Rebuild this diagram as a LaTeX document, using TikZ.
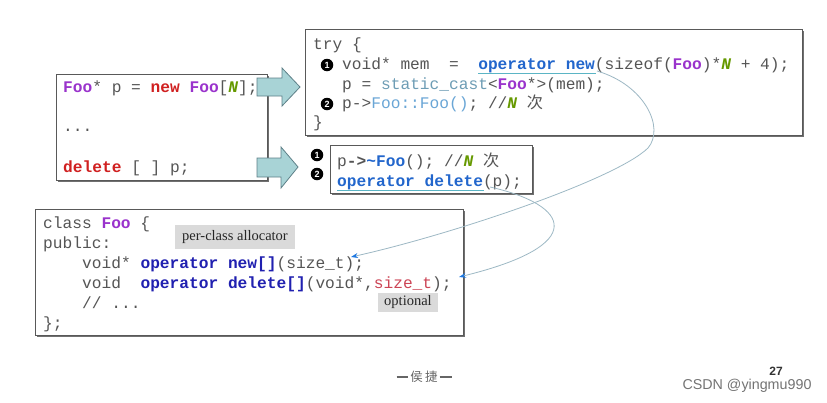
\documentclass[tikz,border=0pt]{standalone}
\usepackage{fontspec}
\setmainfont{Liberation Serif}
\newfontfamily\codefont{Liberation Mono}
\newfontfamily\cjkfont{Noto Sans CJK SC}
\newfontfamily\wmfont{Liberation Sans}
\usetikzlibrary{arrows.meta,shadows}

\definecolor{cgray}{HTML}{555555}
\definecolor{foopurple}{HTML}{9A33CC}
\definecolor{newred}{HTML}{D02020}
\definecolor{ngreen}{HTML}{669900}
\definecolor{opblue}{HTML}{2266CC}
\definecolor{castblue}{HTML}{6E9DB5}
\definecolor{ctorblue}{HTML}{6AA6D6}
\definecolor{darkblue}{HTML}{2020B0}
\definecolor{sizered}{HTML}{CC4455}
\definecolor{arrowfill}{HTML}{A8D3D6}
\definecolor{arrowline}{HTML}{5E8088}
\definecolor{linkline}{HTML}{9DB8C4}
\definecolor{tipblue}{HTML}{1F78E0}
\definecolor{ulcolor}{HTML}{5BB5C5}
\definecolor{tagbg}{HTML}{DADADA}

\newcommand\gN{{\bfseries\itshape\color{ngreen}N}}
\newcommand\footdash{\rule[0.33em]{0.95em}{0.09em}}

\tikzset{
  code/.style={font=\codefont\fontsize{16.2}{19}\selectfont, text=cgray, inner sep=0pt, anchor=base west},
  codebox/.style={draw=black!65, line width=1.3pt, fill=white, inner sep=0pt, anchor=north west,
    drop shadow={shadow xshift=1.5pt, shadow yshift=-1.5pt, fill=black!70, opacity=0.8}},
  bullet/.style={circle, fill=black, text=white, inner sep=0pt, minimum size=12.5pt,
    font=\wmfont\bfseries\fontsize{9}{9}\selectfont},
  tag/.style={fill=tagbg, inner sep=0pt, font=\fontsize{14.5}{15}\selectfont, text=black!85},
  blockarrow/.style={fill=arrowfill, draw=arrowline, line width=0.8pt, line join=miter},
  link/.style={draw=linkline, line width=0.8pt, -{Stealth[length=7pt,width=5pt,color=tipblue]}},
  underl/.style={draw=ulcolor, line width=1pt},
}

\begin{document}
\begin{tikzpicture}[x=1pt,y=-1pt]
\useasboundingbox (0,0) rectangle (827,402);

% boxes
\node[codebox, minimum width=211pt, minimum height=106pt] (leftbox) at (56,74) {};
\node[codebox, minimum width=497pt, minimum height=106pt] (trybox) at (305,29) {};
\node[codebox, minimum width=202pt, minimum height=48pt] (delbox) at (330,145) {};
\node[codebox, minimum width=428pt, minimum height=126pt] (classbox) at (35,209) {};

% left box code
\node[code] (l1) at (63,92) {{\bfseries\color{foopurple}Foo}* p = {\bfseries\color{newred}new} {\bfseries\color{foopurple}Foo}[\gN];};
\node[code] (l2) at (63,131) {...};
\node[code] (l3) at (63,172) {{\bfseries\color{newred}delete} [ ] p;};

% block arrows
\draw[blockarrow] (257,78) -- (282,78) -- (282,68) -- (300,87) -- (282,106) -- (282,96) -- (257,96) -- cycle;
\draw[blockarrow] (257,158) -- (281,158) -- (281,147) -- (298,167) -- (281,188) -- (281,177) -- (257,177) -- cycle;

% try box code
\node[code] (t0) at (313,49) {try \{};
\node[bullet] (b1) at (327,65) {1};
\node[code] (t1) at (342,69) {void* mem\ \ =\ \ {\bfseries\color{opblue}operator new}(sizeof({\bfseries\color{foopurple}Foo})*\gN{} + 4);};
\node[code] (t2) at (342,89) {p = {\color{castblue}static\_cast}<{\bfseries\color{foopurple}Foo}*>(mem);};
\node[bullet] (b2) at (327,104) {2};
\node[code] (t3) at (342,108) {p->{\color{ctorblue}Foo::Foo()}; //\gN{} {\cjkfont 次}};
\node[code] (t4) at (313,127) {\}};
\draw[underl] (478,73) -- (596,73);

% delete box code
\node[bullet] (b3) at (317,155) {1};
\node[bullet] (b4) at (317,174) {2};
\node[code] (d1) at (337,166) {p{\bfseries ->}{\bfseries\color{opblue}\textasciitilde Foo}(); //\gN{} {\cjkfont 次}};
\node[code] (d2) at (337,186) {{\bfseries\color{opblue}operator delete}(p);};
\draw[underl] (337,190) -- (484,190);

% class box code
\node[code] (c1) at (43,228) {class {\bfseries\color{foopurple}Foo} \{};
\node[code] (c2) at (43,248) {public:};
\node[code] (c3) at (82,268) {void* {\bfseries\color{darkblue}operator new[]}(size\_t);};
\node[code] (c4) at (82,288) {void\ \ {\bfseries\color{darkblue}operator delete[]}(void*,{\color{sizered}size\_t});};
\node[code] (c5) at (82,308) {//\ ...};
\node[code] (c6) at (43,328) {\};};

% tags
\node[tag, minimum width=120pt, minimum height=24pt] (tagalloc) at (235,237) {per-class allocator};
\node[tag, minimum width=60pt, minimum height=19pt] (tagopt) at (408,302.5) {optional};

% links
\coordinate (s1) at (597,71);
\coordinate (m1) at (648,148);
\coordinate (e1) at (351,257);
\coordinate (s2) at (490,187);
\coordinate (e2) at (459,277);
\draw[link] (s1) .. controls (645,85) and (665,128) .. (m1) .. controls (615,180) and (450,235) .. (e1);
\draw[link] (s2) .. controls (570,205) and (590,245) .. (e2);

% footer
\node[font=\cjkfont\fontsize{12.5}{14}\selectfont, text=black!60, inner sep=0pt] (author) at (424,377) {\footdash\,侯\,捷\,\footdash};
\node[font=\wmfont\bfseries\fontsize{12}{12}\selectfont, text=black!80, inner sep=0pt] (pagenum) at (776,371) {27};
\node[font=\wmfont\fontsize{14.3}{15}\selectfont, text=black!55, inner sep=0pt] (wm) at (747,386) {CSDN @yingmu990};
\end{tikzpicture}
\end{document}
